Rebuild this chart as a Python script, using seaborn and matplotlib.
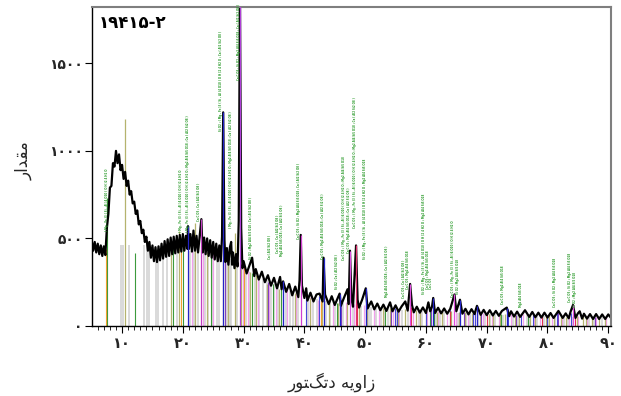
import matplotlib
matplotlib.use("Agg")
import matplotlib.pyplot as plt
import seaborn as sns
import pandas as pd

sns.set_theme(style="white")
plt.rcParams['font.family'] = ['DejaVu Sans']

# ---------------- data ----------------
two_theta = [5.00, 5.25, 5.50, 5.75, 6.00, 6.25, 6.50, 6.75, 7.00, 7.25, 7.50, 7.75, 8.00, 8.25, 8.50,
             8.75, 9.00, 9.25, 9.50, 9.75, 10.00, 10.25, 10.50, 10.75, 11.00, 11.25, 11.50, 11.75, 12.00,
             12.25, 12.50, 12.75, 13.00, 13.25, 13.50, 13.75, 14.00, 14.25, 14.50, 14.75, 15.00, 15.25,
             15.50, 15.75, 16.00, 16.25, 16.50, 16.75, 17.00, 17.25, 17.50, 17.75, 18.00, 18.25, 18.50,
             18.75, 19.00, 19.25, 19.50, 19.75, 20.00, 20.25, 20.50, 20.75, 20.85, 21.00, 21.25, 21.50,
             21.75, 22.00, 22.25, 22.50, 22.75, 23.05, 23.25, 23.50, 23.75, 24.00, 24.25, 24.50, 24.75,
             25.00, 25.25, 25.50, 25.75, 26.00, 26.25, 26.45, 26.64, 26.85, 27.00, 27.25, 27.50, 27.75,
             27.95, 28.10, 28.25, 28.50, 28.75, 29.00, 29.20, 29.40, 29.60, 29.80, 30.00, 30.50, 31.00,
             31.40, 31.75, 32.00, 32.50, 33.00, 33.50, 34.00, 34.50, 35.00, 35.50, 36.00, 36.25, 36.50,
             37.00, 37.50, 38.00, 38.50, 39.00, 39.20, 39.40, 39.60, 40.00, 40.30, 40.50, 41.00, 41.50,
             42.00, 42.50, 43.00, 43.15, 43.40, 44.00, 44.50, 45.00, 45.50, 45.80, 46.00, 46.50, 47.10,
             47.30, 47.50, 47.75, 48.00, 48.50, 48.75, 49.00, 49.50, 50.10, 50.40, 51.00, 51.50, 52.00,
             52.50, 53.00, 53.50, 54.10, 54.50, 55.00, 55.50, 56.00, 56.60, 57.00, 57.40, 57.70, 58.00,
             58.50, 59.00, 59.50, 60.00, 60.40, 60.70, 61.00, 61.20, 61.50, 62.00, 62.50, 63.00, 63.50,
             64.00, 64.70, 65.00, 65.60, 66.00, 66.50, 67.00, 67.50, 68.00, 68.40, 69.00, 69.50, 70.00,
             70.50, 71.00, 71.50, 72.00, 72.50, 73.30, 73.70, 74.00, 74.50, 75.00, 75.50, 76.30, 77.00,
             77.50, 78.00, 78.50, 79.00, 79.50, 80.00, 80.50, 81.00, 81.80, 82.50, 83.00, 83.50, 83.80,
             84.20, 84.60, 85.00, 85.30, 85.70, 86.00, 86.50, 87.00, 87.50, 88.00, 88.50, 89.00, 89.50,
             90.00, 90.50]
intensity = [490, 430, 480, 420, 470, 410, 460, 400, 455, 405, 560, 640, 790, 800, 930,
             910, 1000, 930, 980, 890, 920, 840, 880, 800, 830, 750, 770, 700, 710,
             640, 660, 580, 600, 530, 550, 480, 510, 430, 480, 390, 460, 370,
             450, 365, 455, 375, 470, 385, 485, 395, 495, 400, 505, 410, 510,
             415, 515, 420, 520, 425, 525, 430, 515, 440, 570, 440, 525, 425,
             545, 430, 515, 420, 505, 610, 420, 505, 410, 500, 400, 490, 390,
             480, 380, 470, 370, 460, 370, 510, 1220, 490, 365, 445, 350, 450,
             480, 350, 420, 330, 410, 340, 600, 1900, 560, 330, 370, 300, 350,
             390, 285, 325, 265, 310, 250, 290, 230, 275, 215, 280, 210, 255,
             195, 240, 175, 225, 165, 260, 520, 230, 160, 215, 145, 190, 140,
             180, 185, 140, 390, 180, 125, 170, 120, 160, 185, 115, 160, 210,
             125, 430, 155, 110, 460, 150, 105, 150, 215, 100, 140, 95, 128,
             90, 122, 86, 135, 84, 118, 82, 112, 140, 88, 240, 120, 78,
             110, 76, 106, 74, 135, 84, 110, 160, 74, 104, 72, 100, 70,
             98, 180, 84, 150, 70, 98, 66, 96, 68, 115, 64, 92, 62,
             90, 60, 86, 58, 86, 105, 56, 84, 54, 82, 52, 90, 52,
             80, 50, 76, 48, 76, 48, 74, 46, 86, 46, 72, 44, 82,
             120, 46, 72, 84, 42, 70, 42, 68, 40, 68, 40, 66, 40,
             66, 44]

# reference sticks (drawn under the pattern)
grey_pos = [9.8, 10.2, 11.2, 13.6, 14.1, 14.5, 15.6, 15.9, 16.8, 17.4, 19.1, 21.2, 21.9, 22.5, 23.6,
            24.2, 24.9, 25.6, 26.0, 27.2, 27.7, 28.0, 28.9, 30.4, 30.9, 31.9, 32.6, 33.2, 33.8, 34.5,
            35.0, 35.6, 36.9, 37.6, 38.2, 38.9, 40.6, 41.4, 42.1, 43.6, 44.2, 45.0, 46.4, 48.0, 49.3,
            50.6, 51.0, 51.8, 52.6, 53.1, 53.8, 55.1, 56.0, 57.0, 58.8, 59.4, 61.6, 62.3, 63.0, 65.2,
            66.6, 67.2, 68.6, 69.8, 70.6, 71.3, 72.7, 74.4, 75.1, 76.6, 77.0, 78.3, 79.4, 80.1, 81.2,
            82.7, 83.3, 84.0, 86.9, 87.6, 88.9]
grey_top = [463, 463, 463, 463, 463, 440, 420, 420, 440, 440, 440, 430, 430, 430, 420,
            420, 410, 400, 400, 380, 380, 370, 350, 320, 310, 290, 280, 270, 260, 250,
            240, 230, 210, 200, 190, 180, 165, 160, 155, 145, 140, 135, 130, 120, 115,
            110, 108, 105, 100, 100, 96, 92, 90, 88, 86, 85, 82, 80, 78, 76,
            74, 73, 72, 70, 68, 66, 64, 62, 61, 60, 60, 58, 57, 56, 55,
            54, 53, 53, 50, 50, 49]
olive_pos = [10.5, 18.1, 19.4, 22.0, 23.9, 26.6, 27.5, 28.6, 29.6, 31.0, 32.0, 33.9, 35.8, 38.5, 40.9,
             42.9, 44.1, 45.6, 47.0, 49.0, 50.3, 52.9, 54.1, 55.4, 56.5, 58.3, 59.0, 60.0, 61.9, 62.6,
             64.2, 65.4, 66.4, 67.5, 68.9, 70.3, 71.0, 72.2, 73.0, 74.7, 75.3, 77.1, 78.0, 79.7, 80.3,
             81.0, 82.2, 83.0, 84.8, 85.9, 86.3, 87.3, 88.5, 89.4]
olive_top = [1180, 440, 540, 590, 420, 530, 380, 530, 330, 310, 290, 240, 210, 190, 160,
             150, 140, 130, 130, 115, 110, 100, 100, 95, 95, 92, 90, 85, 82, 85,
             85, 80, 80, 76, 74, 70, 70, 68, 66, 62, 64, 62, 60, 58, 60,
             56, 58, 54, 56, 55, 52, 54, 50, 52]
green_pos = [7.6, 12.1, 18.3, 20.1, 24.6, 31.3, 34.8, 36.1, 45.3, 53.3, 60.6, 61.4, 72.4, 76.8]
green_top = [730, 417, 451, 480, 430, 300, 240, 220, 130, 95, 85, 85, 70, 64]
pink_pos = [21.5, 23.4, 25.0, 29.9, 30.8, 32.4, 34.2, 35.3, 37.2, 38.7, 41.0, 42.3, 44.7, 46.8,
            48.2, 49.8, 51.4, 52.2, 54.6, 55.6, 57.8, 59.1, 60.2, 62.0, 63.5, 65.0, 66.9, 68.0,
            69.4, 70.9, 72.0, 74.0, 76.0, 77.8, 78.8, 80.8, 82.4, 83.5, 85.0, 86.5, 88.0, 89.7]
pink_top = [440, 430, 420, 330, 320, 280, 255, 235, 215, 185, 165, 150, 145, 135,
            125, 120, 110, 105, 98, 95, 92, 90, 86, 86, 84, 82, 80, 76,
            76, 74, 70, 68, 66, 62, 62, 60, 58, 56, 56, 55, 54, 52]
blue_pos = [36.54, 40.29, 42.45, 45.79, 50.14, 54.87, 55.3, 59.96, 64.03, 67.74, 68.14, 73.47,
            75.66, 77.67, 79.88, 81.49, 83.84]
blue_top = [240, 200, 170, 170, 200, 100, 98, 90, 90, 85, 100, 95, 66, 62, 60, 78, 75]
purple_pos = [27.0, 34.0, 46.1, 54.3, 60.9, 66.2, 69.0, 74.9, 81.7, 87.8]
purple_top = [380, 250, 150, 100, 95, 82, 76, 64, 80, 52]
orange_pos = [7.4, 19.7, 30.1, 42.8]
orange_top = [440, 470, 340, 150]
red_pos = [48.7, 57.6, 63.9, 70.0, 79.1, 84.5]
red_top = [200, 110, 88, 78, 62, 60]

# peak markers (drawn above the pattern)
peak_pos = [20.85, 23.05, 26.64, 29.40, 36.5, 39.40, 43.15, 45.8, 47.50, 48.50, 50.1, 57.40, 61.2,
            64.70, 65.6, 68.4, 73.3, 84.20]
peak_top = [570, 610, 1220, 1900, 255, 520, 390, 185, 430, 460, 215, 240, 160,
            180, 150, 115, 105, 120]
peak_col = ["#2424c8", "#c040c0", "#2424c8", "#b040d8", "#2424c8", "#d040d0", "#2424c8", "#2424c8",
            "#e050e0", "#e03070", "#2424c8", "#e050e0", "#2424c8", "#e050e0", "#2424c8", "#2424c8",
            "#2424c8", "#e050e0"]

# phase annotations
A = "( Mg , Fe )3 ( Si , Al )4 O10 ( O H )2 4 H2 O"
ann_pos = [7.5, 19.7, 20.8, 22.7, 26.3, 27.9, 29.25, 31.2, 34.3, 35.6, 36.3, 39.1, 43.0, 45.4, 46.6,
           47.3, 48.3, 50.0, 53.6, 56.3, 57.1, 59.6, 60.3, 60.9, 64.5, 65.3, 72.6, 75.6, 81.2, 83.7, 84.6]
ann_base = [537, 531, 531, 594, 1103, 549, 1394, 377, 377, 406, 389, 491, 377, 206, 366,
            406, 549, 377, 160, 149, 206, 177, 206, 206, 160, 177, 120, 103, 103, 131, 103]
ann_text = [
    A,
    A,
    A + " ; Mg2 Al4 Si5 O18 ; Ca ( Al2 Si2 O8 )",
    "Ca C O3 ; Ca ( Al2 Si2 O8 )",
    "Si O2 ; " + A + " ; Ca ( Al2 Si2 O8 )",
    A + " ; Mg2 Al4 Si5 O18 ; Ca ( Al2 Si2 O8 )",
    "Ca C O3 ; Si O2 ; Mg2 Al4 Si5 O18 ; Ca ( Al2 Si2 O8 )",
    "Si O2 ; Mg2 Al4 Si5 O18 ; Ca ( Al2 Si2 O8 )",
    "Ca ( Al2 Si2 O8 )",
    "Ca C O3 ; Ca ( Al2 Si2 O8 )",
    "Mg2 Al4 Si5 O18 ; Ca ( Al2 Si2 O8 )",
    "Ca C O3 ; Si O2 ; Mg2 Al4 Si5 O18 ; Ca ( Al2 Si2 O8 )",
    "Ca C O3 ; Mg2 Al4 Si5 O18 ; Ca ( Al2 Si2 O8 )",
    "Si O2 ; Ca ( Al2 Si2 O8 )",
    "Ca C O3 ; " + A + " ; Mg2 Al4 Si5 O18",
    "Ca C O3 ; Mg2 Al4 Si5 O18 ; Ca ( Al2 Si2 O8 )",
    "Ca C O3 ; " + A + " ; Mg2 Al4 Si5 O18 ; Ca ( Al2 Si2 O8 )",
    "Si O2 ; " + A + " ; Mg2 Al4 Si5 O18",
    "Mg2 Al4 Si5 O18 ; Ca ( Al2 Si2 O8 )",
    "Ca C O3 ; Ca ( Al2 Si2 O8 )",
    "Ca C O3 ; Mg2 Al4 Si5 O18",
    "Si O2 ; " + A + " ; Mg2 Al4 Si5 O18",
    "Ca C O3 ; Mg2 Al4 Si5 O18",
    "Ca C O3",
    "Ca C O3 ; " + A,
    "Si O2 ; Mg2 Al4 Si5 O18",
    "Ca C O3 ; Mg2 Al4 Si5 O18",
    "Mg2 Al4 Si5 O18",
    "Ca C O3 ; Si O2 ; Mg2 Al4 Si5 O18",
    "Ca C O3 ; Si O2 ; Mg2 Al4 Si5 O18",
    "Si O2 ; Mg2 Al4 Si5 O18",
]

x_ticks = [10, 20, 30, 40, 50, 60, 70, 80, 90]
y_ticks = [0, 500, 1000, 1500]
title_text = "۱۹۴۱۵-۲"
# Persian labels in visual (presentation-form) order
y_label = "\uFEAD\uFE8D\uFEAA\uFED8\uFEE3"                      # مقدار
x_label = "\uFEAD\uFEEE\uFE98\uFB93\uFE97\uFEA9 \uFEEA\uFEF3\uFEED\uFE8D\uFEAF"  # زاویه دتکتور

FA = str.maketrans("0123456789", "۰۱۲۳۴۵۶۷۸۹")

# ---------------- figure ----------------
fig = plt.figure(figsize=(6.21, 3.96), dpi=100)
ax = fig.add_axes([0.1486, 0.1768, 0.8348, 0.8048])

def sticks(pos, top, color, lw=0.8, z=1):
    ax.vlines(pos, 0, top, colors=color, linewidth=lw, zorder=z)

sticks(grey_pos, grey_top, "#cfcfcf", 1.1)
sticks(pink_pos, pink_top, "#f2a0ee", 0.9)
sticks(olive_pos, olive_top, "#b5b36e", 0.9)
sticks(green_pos, green_top, "#3c9a3c", 0.8)
sticks(blue_pos, blue_top, "#4848d8", 0.8)
sticks(purple_pos, purple_top, "#8040c0", 0.8)
sticks(orange_pos, orange_top, "#f0a030", 0.8)
sticks(red_pos, red_top, "#e03050", 0.8)

df = pd.DataFrame({"two_theta": two_theta, "intensity": intensity})
sns.lineplot(data=df, x="two_theta", y="intensity", ax=ax, color="black", linewidth=1.6,
             zorder=2, sort=False, estimator=None)

for p, t, c in zip(peak_pos, peak_top, peak_col):
    ax.vlines(p, 0, t, colors=c, linewidth=0.9, zorder=3)

for p, b, s in zip(ann_pos, ann_base, ann_text):
    ax.text(p, b + 8, s, rotation=90, ha="center", va="bottom", fontsize=1.9,
            fontweight="bold", color="#2a9a2a", zorder=4)

ax.set_xlim(5.1, 90.4)
ax.set_ylim(0, 1820)
ax.set_xticks(x_ticks)
ax.set_xticks(list(range(6, 91)), minor=True)
ax.set_xticklabels([str(v).translate(FA) for v in x_ticks], fontsize=10.5, fontweight="bold")
ax.set_yticks(y_ticks)
ax.set_yticklabels([str(v).translate(FA) for v in y_ticks], fontsize=10, fontweight="bold")
ax.tick_params(axis="both", which="major", direction="out", length=5, width=0.8, color="black",
               bottom=True, left=True, pad=2)
ax.tick_params(axis="x", which="minor", direction="out", length=3, width=0.6, color="black",
               bottom=True)
ax.set_xlabel(x_label, fontsize=12)
ax.set_ylabel(y_label, fontsize=12)
ax.xaxis.set_label_coords(0.461, -0.145)
ax.yaxis.set_label_coords(-0.115, 0.52)

for side in ["left", "bottom"]:
    ax.spines[side].set_color("black")
    ax.spines[side].set_linewidth(1.0)
for side in ["top", "right"]:
    ax.spines[side].set_color("#7f7f7f")
    ax.spines[side].set_linewidth(1.5)

ax.text(0.013, 0.978, title_text, transform=ax.transAxes, ha="left", va="top",
        fontsize=12, fontweight="bold", color="black")

fig.savefig("out.png", dpi=100)
